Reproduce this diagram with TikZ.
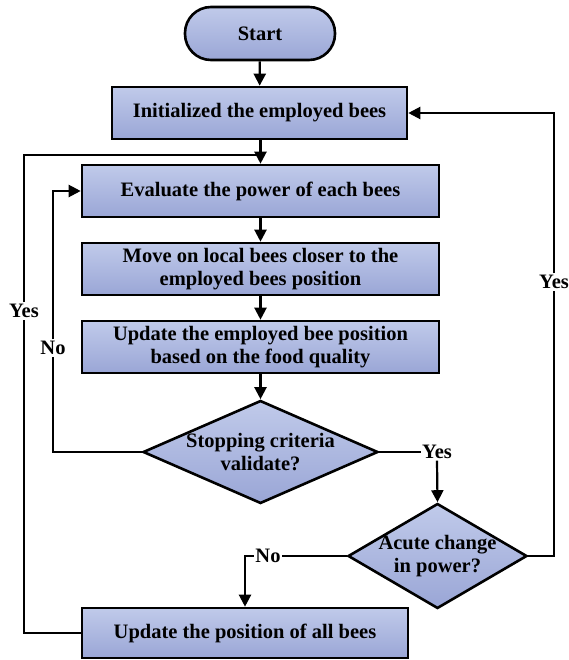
\documentclass[tikz,border=0pt]{standalone}
\usepackage{fontspec}
\setmainfont{Liberation Serif}
\usetikzlibrary{arrows.meta,shapes.geometric}
\definecolor{boxtop}{RGB}{192,202,234}
\definecolor{boxbot}{RGB}{154,166,214}
\tikzset{
  txt/.style={font=\fontsize{20.5}{23}\selectfont\bfseries,align=center},
  boxfill/.style={draw=black,line width=2.6pt,top color=boxtop,bottom color=boxbot,
    txt,inner sep=0pt},
  procbox/.style={boxfill,rectangle,minimum height=52pt},
  termbox/.style={boxfill,rectangle,rounded corners=26pt,minimum width=150pt,minimum height=53pt},
  decbox/.style={boxfill,diamond},
  lbl/.style={txt,fill=white,inner sep=1.5pt},
  flow/.style={line width=2.2pt,draw=black},
  arr/.style={flow,-{Triangle[length=12pt,width=12pt]}}
}
\begin{document}
\begin{tikzpicture}[x=1pt,y=-1pt]
\useasboundingbox (0,0) rectangle (569,660);

% process blocks
\node[termbox] (start) at (260,33.5) {Start};
\node[procbox,minimum width=295pt] (init) at (259.5,113) {Initialized the employed bees};
\node[procbox,minimum width=357pt] (eval) at (260.5,191) {Evaluate the power of each bees};
\node[procbox,minimum width=357pt] (move) at (260.5,269) {Move on local bees closer to the\\employed bees position};
\node[procbox,minimum width=357pt] (upd) at (260.5,347) {Update the employed bee position\\based on the food quality};
\node[decbox,minimum width=235pt,minimum height=103pt,
      label={[txt]center:Stopping criteria\\validate?}] (stop) at (260.5,452) {};
\node[decbox,minimum width=179pt,minimum height=105pt,
      label={[txt]center:Acute change\\in power?}] (acute) at (437.5,556) {};
\node[procbox,minimum width=326pt,minimum height=50pt] (upall) at (245,633) {Update the position of all bees};

% branch labels
\node[lbl] (yesL) at (24,311) {Yes};
\node[lbl] (noL) at (53,348) {No};
\node[lbl] (yesS) at (437,452) {Yes};
\node[lbl] (yesR) at (554,282) {Yes};
\node[lbl] (noA) at (268,556) {No};
\coordinate (join) at (260.5,155);

% main chain
\draw[arr] (start) -- (init);
\draw[arr] (init.south -| eval.north) -- (eval.north);
\draw[arr] (eval) -- (move);
\draw[arr] (move) -- (upd);
\draw[arr] (upd) -- (stop);

% stopping criteria: no -> re-evaluate
\draw[flow] (stop.west) -| (noL.south);
\draw[arr] (noL.north) |- (eval.west);

% stopping criteria: yes -> acute change test
\draw[flow] (stop.east) -- (yesS.west);
\draw[arr] (yesS.south) -- (acute.north);

% acute change: yes -> reinitialise
\draw[flow] (acute.east) -| (yesR.south);
\draw[arr] (yesR.north) |- (init.east);

% acute change: no -> update all bees
\draw[flow] (acute.west) -- (noA.east);
\draw[arr] (noA.west) -| (upall.north);

% update all bees -> back to evaluation
\draw[flow] (upall.west) -| (yesL.south);
\draw[flow] (yesL.north) |- (join);
\end{tikzpicture}
\end{document}
